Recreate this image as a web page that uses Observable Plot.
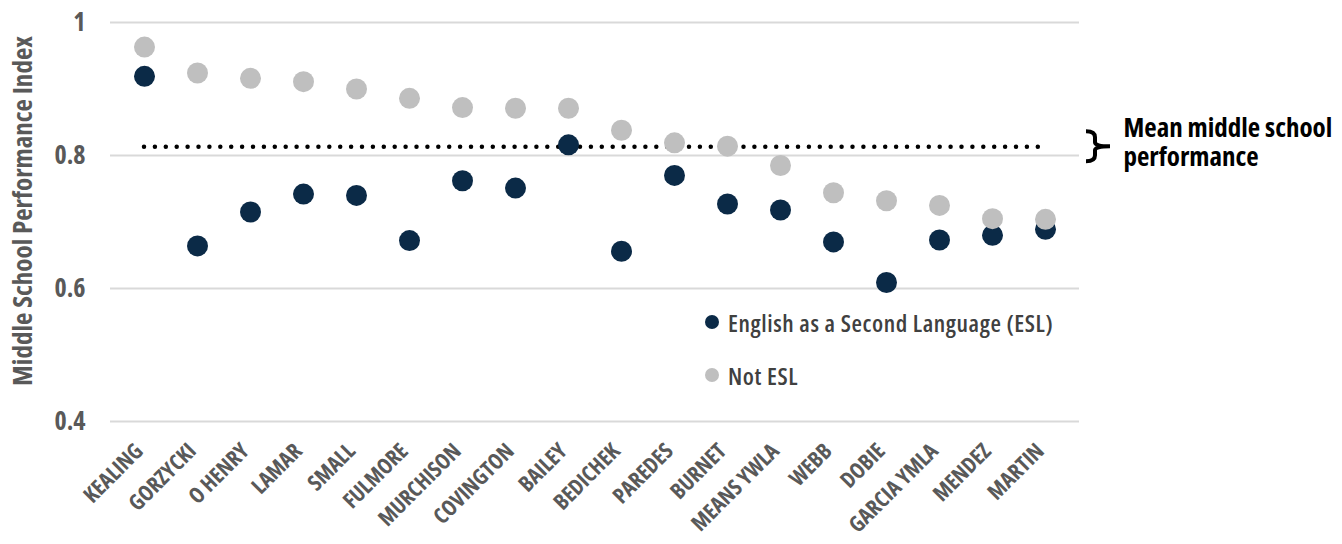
<!DOCTYPE html>
<html><head><meta charset="utf-8">
<script src="https://cdn.jsdelivr.net/npm/d3@7"></script>
<script src="https://cdn.jsdelivr.net/npm/@observablehq/plot@0.6"></script>
<style>
body{margin:0;background:#fff;}
#wrap{position:relative;width:1342px;height:544px;overflow:hidden;}
.cf, .cf svg, .cf svg text{font-family:"Open Sans","DejaVu Sans Condensed",sans-serif !important;font-stretch:75%;}
#legend{position:absolute;left:705px;top:307px;color:#404040;font-size:24px;font-weight:600;letter-spacing:0.6px;}
#legend .row{display:flex;align-items:center;height:30px;margin-bottom:23px;}
#legend .sw{width:14px;height:14px;border-radius:50%;margin-right:9px;}
</style></head><body>
<div id="wrap" class="cf"></div>
<script>
const schools = ["KEALING","GORZYCKI","O HENRY","LAMAR","SMALL","FULMORE","MURCHISON","COVINGTON","BAILEY","BEDICHEK","PAREDES","BURNET","MEANS YWLA","WEBB","DOBIE","GARCIA YMLA","MENDEZ","MARTIN"];
const eslValues = [0.919,0.664,0.715,0.742,0.740,0.672,0.762,0.751,0.816,0.656,0.770,0.727,0.718,0.670,0.609,0.673,0.680,0.689];
const notEslValues = [0.963,0.924,0.916,0.911,0.900,0.886,0.872,0.871,0.871,0.838,0.819,0.814,0.785,0.744,0.732,0.725,0.705,0.704];
const meanPerformance = 0.813;
const yTicks = [0.4,0.6,0.8,1];
const seriesNames = ["English as a Second Language (ESL)","Not ESL"];
const seriesColors = ["#0b2a47","#bfbfbf"];
const annotationText = "Mean middle school\nperformance";
const yLabel = "Middle School Performance Index";

const FONT = '"Open Sans","DejaVu Sans Condensed",sans-serif';
const rows = [];
schools.forEach((s,i)=>{ rows.push({school:s, series:seriesNames[0], value:eslValues[i]}); });
schools.forEach((s,i)=>{ rows.push({school:s, series:seriesNames[1], value:notEslValues[i]}); });

const chart = Plot.plot({
  width:1342, height:544,
  marginLeft:110, marginRight:263, marginTop:22, marginBottom:123,
  style:{fontFamily:FONT, fontWeight:700, color:"#595959", background:"#fff", overflow:"visible"},
  x:{type:"point", domain:schools, padding:0.5},
  y:{domain:[0.4,1]},
  color:{domain:seriesNames, range:seriesColors},
  marks:[
    Plot.ruleY(yTicks,{stroke:"#d9d9d9", strokeWidth:2}),
    Plot.axisX({tickSize:0, tickRotate:-45, tickPadding:26, dx:-5, fontSize:22, fontWeight:700, fill:"#595959", label:null}),
    Plot.axisY(yTicks,{tickSize:0, tickPadding:25, fontSize:26, fontWeight:700, fill:"#595959", tickFormat:d=>String(d), label:null}),
    Plot.text([yLabel],{frameAnchor:"left", text:d=>d, rotate:-90, textAnchor:"middle", dx:-87, dy:-11, fontSize:27, fontWeight:700, fill:"#595959"}),
    Plot.ruleY([meanPerformance],{x1:()=>schools[0], x2:()=>schools[schools.length-1], stroke:"#000", strokeWidth:4.5, strokeDasharray:"0,10.9", strokeLinecap:"round"}),
    Plot.dot(rows,{x:"school", y:"value", fill:"series", r:10.5}),
    Plot.text([meanPerformance],{x:()=>schools[schools.length-1], y:d=>d, text:()=>annotationText, dx:78, dy:-5, textAnchor:"start", lineAnchor:"middle", lineHeight:1.1, fontSize:27, fontWeight:700, fill:"#000"})
  ]
});
document.getElementById("wrap").appendChild(chart);

const xs = chart.scale("x"), ys = chart.scale("y");
const bx = xs.apply(schools[schools.length-1]) + 41;
const by = ys.apply(meanPerformance);
const p = d3.path();
p.moveTo(bx, by-15); p.quadraticCurveTo(bx+9, by-15, bx+9, by-9);
p.lineTo(bx+9, by-4); p.quadraticCurveTo(bx+9, by, bx+24, by);
p.moveTo(bx+9, by+4); p.quadraticCurveTo(bx+9, by, bx+24, by);
p.moveTo(bx+9, by+4); p.lineTo(bx+9, by+9); p.quadraticCurveTo(bx+9, by+15, bx, by+15);
d3.select(chart).append("path").attr("d", p.toString()).attr("fill","none").attr("stroke","#000").attr("stroke-width",4).attr("stroke-linejoin","round");

const lg = d3.select("#wrap").append("div").attr("id","legend");
seriesNames.forEach((n,i)=>{
  const r = lg.append("div").attr("class","row");
  r.append("div").attr("class","sw").style("background",seriesColors[i]);
  r.append("span").text(n);
});
</script>
</body></html>
